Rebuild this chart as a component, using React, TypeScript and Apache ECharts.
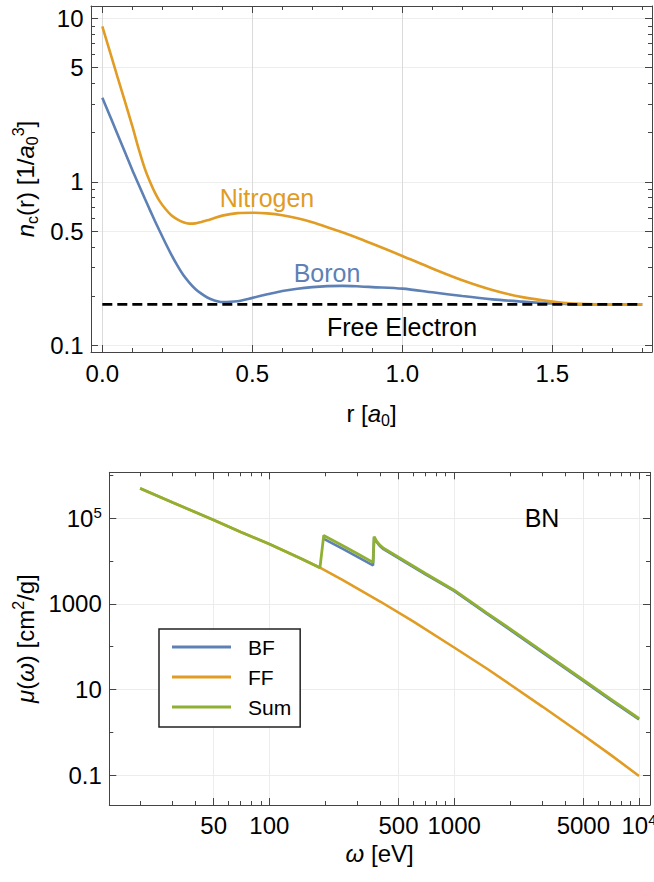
import React, { useEffect, useRef } from 'react';
import * as echarts from 'echarts';

// ---------- Top panel data: core electron density n_c(r) [1/a0^3] ----------
const rGrid = [0, 0.05, 0.1, 0.12, 0.142, 0.16, 0.175, 0.19, 0.21, 0.23, 0.25, 0.27, 0.29, 0.31, 0.33, 0.35, 0.37, 0.4, 0.45, 0.5, 0.55, 0.6, 0.65, 0.7, 0.75, 0.8, 0.86, 0.9, 1.0, 1.1, 1.2, 1.3, 1.4, 1.5, 1.57, 1.65, 1.8];
const nitrogen = [8.91, 4.42, 2.19, 1.62, 1.2, 0.989, 0.861, 0.767, 0.684, 0.624, 0.589, 0.565, 0.555, 0.557, 0.568, 0.581, 0.597, 0.621, 0.643, 0.647, 0.641, 0.625, 0.598, 0.565, 0.528, 0.491, 0.447, 0.418, 0.352, 0.295, 0.25, 0.218, 0.197, 0.185, 0.18, 0.178, 0.178];
const boron = [3.27, 1.97, 1.18, 0.973, 0.787, 0.664, 0.578, 0.505, 0.424, 0.359, 0.308, 0.269, 0.242, 0.221, 0.207, 0.196, 0.189, 0.184, 0.186, 0.195, 0.205, 0.215, 0.222, 0.227, 0.23, 0.231, 0.229, 0.227, 0.222, 0.211, 0.2, 0.191, 0.185, 0.18, 0.178, 0.178, 0.178];
const freeElectronR = [0, 1.8];
const freeElectron = [0.178, 0.178];

const rTicksMajor = [0, 0.5, 1.0, 1.5];
const rTickLabels = ['0.0', '0.5', '1.0', '1.5'];
const rTicksMinor = [0.1, 0.2, 0.3, 0.4, 0.6, 0.7, 0.8, 0.9, 1.1, 1.2, 1.3, 1.4, 1.6, 1.7, 1.8];
const nTicksMajor = [0.1, 0.5, 1, 5, 10];
const nTickLabels = ['0.1', '0.5', '1', '5', '10'];
const nTicksMinor = [0.2, 0.3, 0.4, 0.6, 0.7, 0.8, 0.9, 2, 3, 4, 6, 7, 8, 9];

// ---------- Bottom panel data: mu(omega) [cm^2/g] for BN ----------
const omegaFF = [20, 30, 50, 70, 100, 150, 188, 250, 400, 600, 1000, 1500, 2000, 3000, 5000, 7000, 10000];
const muFF = [5.0e5, 2.34e5, 9.12e4, 4.79e4, 2.51e4, 1.12e4, 7000, 3590, 1120, 389, 95.5, 30.9, 13.2, 3.98, 0.85, 0.30, 0.095];
const omegaBF = [196, 250, 300, 364, 369, 380, 395, 415, 500, 700, 1000, 1500, 2000, 3000, 5000, 7000, 10000];
const muBF = [3.35e4, 1.93e4, 1.25e4, 7920, 3.58e4, 2.82e4, 2.28e4, 1.89e4, 1.165e4, 4870, 2000, 586, 250, 73.6, 15.8, 5.72, 2.0];
const omegaSum = [20, 30, 50, 70, 100, 150, 188, 197, 250, 300, 364, 369, 380, 395, 415, 500, 700, 1000, 1500, 2000, 3000, 5000, 7000, 10000];
const muSum = [5.0e5, 2.34e5, 9.12e4, 4.79e4, 2.51e4, 1.12e4, 7000, 3.98e4, 2.29e4, 1.48e4, 9330, 3.72e4, 2.95e4, 2.4e4, 2.0e4, 1.23e4, 5130, 2090, 617, 263, 77.6, 16.6, 6.03, 2.09];

const wTicksMajor = [50, 100, 500, 1000, 5000, 10000];
const wTickLabels = ['50', '100', '500', '1000', '5000', '10^4'];
const wTicksMinor = [20, 30, 40, 60, 70, 80, 90, 200, 300, 400, 600, 700, 800, 900, 2000, 3000, 4000, 6000, 7000, 8000, 9000];
const muTicksMajor = [0.1, 10, 1000, 1e5];
const muTickLabels = ['0.1', '10', '1000', '10^5'];
const muTicksMinor = [1, 100, 1e4, 1e6];

const seriesNames = ['BF', 'FF', 'Sum'];

const BLUE = '#5E81B5';
const ORANGE = '#E19C24';
const GREEN = '#8FB032';
const FRAME = '#444';
const FONT = '"Liberation Sans", Arial, sans-serif';
const TICK_FS = 24;
const SUP_FS = 15;

const lin = (v: number) => v;
const lg = (v: number) => Math.log10(v);

const nameRich = {
  t: { fontSize: 24, fontFamily: FONT, color: '#000', lineHeight: 30 },
  i: { fontSize: 24, fontFamily: FONT, color: '#000', fontStyle: 'italic', lineHeight: 30 },
  sub: { fontSize: 16, fontFamily: FONT, color: '#000', lineHeight: 18, verticalAlign: 'bottom' },
  sup: { fontSize: 16, fontFamily: FONT, color: '#000', lineHeight: 18, verticalAlign: 'top' },
};

function makeAxes(dim: 'x' | 'y', gridIndex: number, o: any) {
  const { min, max, major, minor, conv, name, nameGap, splitColor } = o;
  const posMain = dim === 'x' ? 'bottom' : 'left';
  const posOpp = dim === 'x' ? 'top' : 'right';
  const base = (position: string, values: number[], len: number, main: boolean) => {
    const primary = main && (position === 'bottom' || position === 'left');
    return {
      type: 'value',
      gridIndex,
      position,
      min,
      max,
      axisLine: { show: main, onZero: false, lineStyle: { color: FRAME, width: 1 } },
      axisTick: { show: true, inside: true, length: len, customValues: values.map(conv), lineStyle: { color: FRAME, width: 1 } },
      axisLabel: { show: false },
      splitLine: { show: primary, lineStyle: { color: splitColor, width: 1 } },
      minorTick: { show: false },
      minorSplitLine: { show: false },
      ...(primary
        ? {
            name,
            nameLocation: 'middle',
            nameGap,
            nameMoveOverlap: false,
            nameRotate: dim === 'y' ? 90 : 0,
            nameTextStyle: { fontSize: 24, fontFamily: FONT, color: '#000', lineHeight: 30, rich: nameRich },
          }
        : {}),
    };
  };
  return [
    base(posMain, major, 7, true),
    base(posMain, minor, 4, false),
    base(posOpp, major, 7, true),
    base(posOpp, minor, 4, false),
  ];
}

const textStyle = (text: string, fill: string, size = 25, align = 'center') => ({
  text,
  fill,
  fontSize: size,
  fontFamily: FONT,
  align,
  verticalAlign: 'middle',
  textAlign: align,
  textVerticalAlign: 'middle',
});

const plainText = (text: string, x: number, y: number, size: number, align: string) => ({
  type: 'text',
  x,
  y,
  silent: true,
  style: textStyle(text, '#000', size, align),
});

// Builds a tick label (plain number, or base with superscript exponent written as "10^5")
function tickLabel(label: string, x: number, y: number, align: 'center' | 'right'): any[] {
  const parts = label.split('^');
  if (parts.length === 1) return [plainText(label, x, y, TICK_FS, align)];
  const baseW = parts[0].length * 0.556 * TICK_FS;
  const supW = parts[1].length * 0.556 * SUP_FS;
  const right = align === 'right' ? x : x + (baseW + supW) / 2;
  return [
    plainText(parts[0], right - supW, y, TICK_FS, 'right'),
    plainText(parts[1], right, y - 6, SUP_FS, 'right'),
  ];
}

export default function App() {
  const ref = useRef<HTMLDivElement>(null);
  useEffect(() => {
    if (!ref.current) return;
    const chart = echarts.init(ref.current, undefined, { renderer: 'svg' });

    const top = {
      x: { min: -0.0377, max: 1.8323, major: rTicksMajor, minor: rTicksMinor, labels: rTickLabels, conv: lin,
        name: '{t|r [}{i|a}{sub|0}{t|]}', nameGap: 46, splitColor: '#dadada' },
      y: { min: -1.041, max: 1.0752, major: nTicksMajor, minor: nTicksMinor, labels: nTickLabels, conv: lg,
        name: '{i|n}{sub|c}{t|(r) [1/}{i|a}{sub|0}{sup|3}{t|]}', nameGap: 51, splitColor: '#eeeeee' },
    };
    const bot = {
      x: { min: 1.1344, max: 4.0595, major: wTicksMajor, minor: wTicksMinor, labels: wTickLabels, conv: lg,
        name: '{i|ω}{t| [eV]}', nameGap: 33, splitColor: '#ececec' },
      y: { min: -1.701, max: 6.075, major: muTicksMajor, minor: muTicksMinor, labels: muTickLabels, conv: lg,
        name: '{i|μ}{t|(}{i|ω}{t|) [cm}{sup|2}{t|/g]}', nameGap: 69, splitColor: '#ececec' },
    };

    const lineSeries = (name: string, axisIndex: number, data: number[][], color: string, extra: any = {}) => ({
      type: 'line',
      name,
      xAxisIndex: axisIndex,
      yAxisIndex: axisIndex,
      data,
      showSymbol: false,
      symbol: 'none',
      silent: true,
      color,
      itemStyle: { color },
      lineStyle: { color, width: 2.6 },
      ...extra,
    });

    chart.setOption({
      animation: false,
      backgroundColor: '#fff',
      textStyle: { fontFamily: FONT },
      grid: [
        { left: 91, top: 6, width: 561, height: 346, outerBoundsMode: 'none', containLabel: false },
        { left: 109.3, top: 472.3, width: 540.7, height: 332.7, outerBoundsMode: 'none', containLabel: false },
      ],
      xAxis: [...makeAxes('x', 0, top.x), ...makeAxes('x', 1, bot.x)],
      yAxis: [...makeAxes('y', 0, top.y), ...makeAxes('y', 1, bot.y)],
      legend: {
        data: seriesNames,
        left: 159,
        top: 629,
        orient: 'vertical',
        icon: 'rect',
        itemWidth: 59,
        itemHeight: 3,
        itemGap: 8,
        padding: [7, 9, 9, 13],
        borderColor: '#222',
        borderWidth: 1.5,
        backgroundColor: '#fff',
        selectedMode: false,
        textStyle: { fontSize: 21, fontFamily: FONT, color: '#000', lineHeight: 22, padding: [0, 0, 0, 12] },
      },
      series: [
        lineSeries('Boron', 0, rGrid.map((r, i) => [r, Math.log10(boron[i])]), BLUE, { smooth: 0.3 }),
        lineSeries('Nitrogen', 0, rGrid.map((r, i) => [r, Math.log10(nitrogen[i])]), ORANGE, { smooth: 0.3 }),
        lineSeries('Free Electron', 0, freeElectronR.map((r, i) => [r, Math.log10(freeElectron[i])]), '#000', {
          lineStyle: { color: '#000', width: 2.6, type: [10, 5] },
        }),
        lineSeries('BF', 4, omegaBF.map((w, i) => [Math.log10(w), Math.log10(muBF[i])]), BLUE),
        lineSeries('FF', 4, omegaFF.map((w, i) => [Math.log10(w), Math.log10(muFF[i])]), ORANGE),
        lineSeries('Sum', 4, omegaSum.map((w, i) => [Math.log10(w), Math.log10(muSum[i])]), GREEN, {
          lineStyle: { color: GREEN, width: 2.8 },
        }),
      ],
    });

    // Tick labels placed through the chart's own coordinate conversion
    const labels: any[] = [];
    const addTicks = (gridIndex: number, ax: any, ay: any, xOffset: number, yOffset: number) => {
      ax.major.forEach((v: number, i: number) => {
        const p = chart.convertToPixel({ gridIndex }, [ax.conv(v), ay.min]);
        if (p) labels.push(...tickLabel(ax.labels[i], p[0], p[1] + yOffset, 'center'));
      });
      ay.major.forEach((v: number, i: number) => {
        const p = chart.convertToPixel({ gridIndex }, [ax.min, ay.conv(v)]);
        if (p) labels.push(...tickLabel(ay.labels[i], p[0] - xOffset, p[1], 'right'));
      });
    };
    addTicks(0, top.x, top.y, 7.5, 21);
    addTicks(1, bot.x, bot.y, 7.5, 20);

    chart.setOption({
      graphic: [
        ...labels,
        { type: 'text', x: 267, y: 198, silent: true, style: textStyle('Nitrogen', ORANGE) },
        { type: 'text', x: 327, y: 273, silent: true, style: textStyle('Boron', BLUE) },
        { type: 'text', x: 402, y: 327, silent: true, style: textStyle('Free Electron', '#000') },
        { type: 'text', x: 542, y: 518, silent: true, style: textStyle('BN', '#000') },
      ],
    });
    return () => chart.dispose();
  }, []);
  return <div ref={ref} style={{ position: 'fixed', left: 0, top: 0, width: 654, height: 882, background: '#fff' }} />;
}
